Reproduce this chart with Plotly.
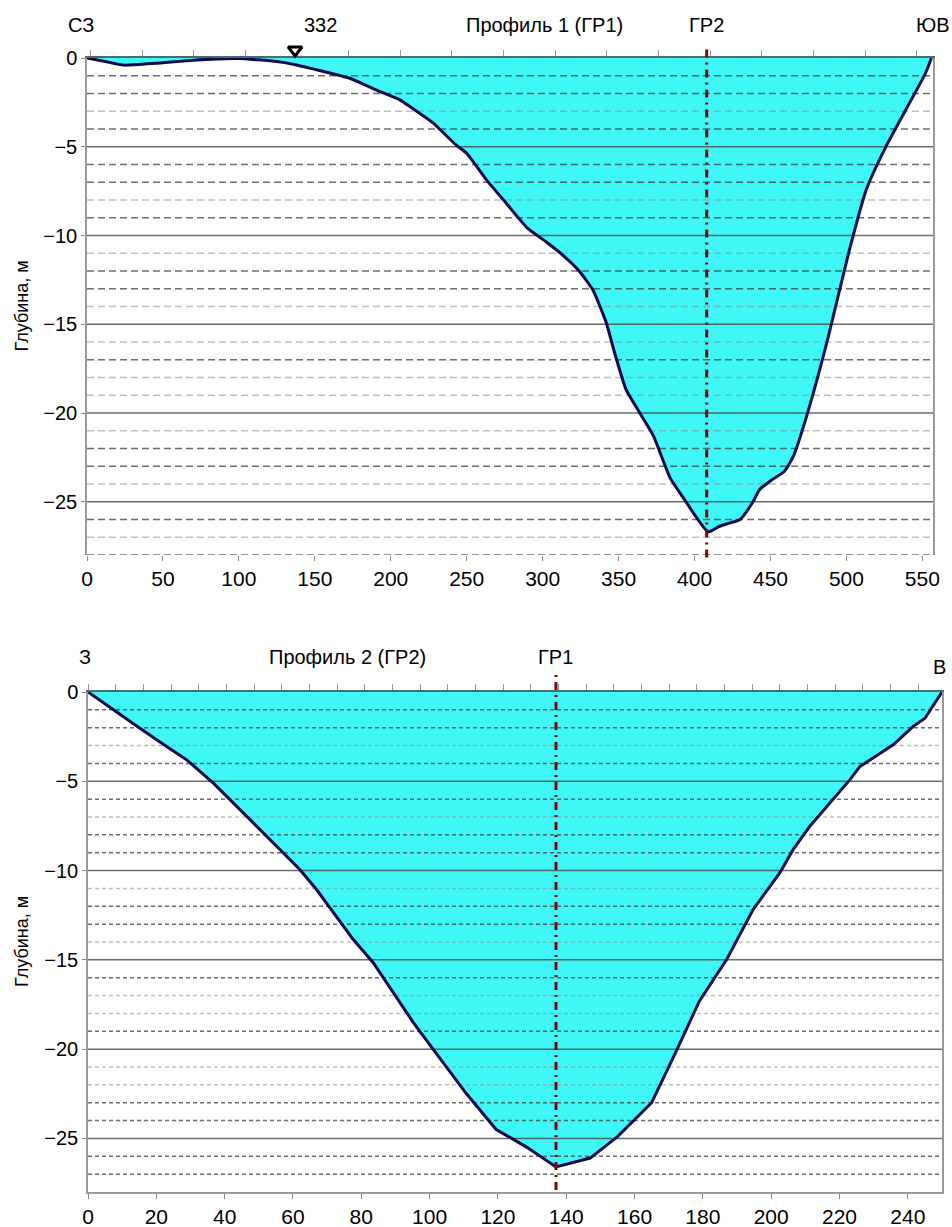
import plotly.graph_objects as go

# ---------------- data ----------------
# Profile 1 (ГР1): distance, m  /  depth, m
p1_x = [0, 12, 24, 45, 70, 100, 125, 138, 153, 173, 193, 206, 219, 228, 243, 250,
        263, 276, 290, 302, 313, 324, 333, 342, 347, 355, 364, 373, 384, 392, 409,
        416, 423, 430, 438, 443, 451, 459, 465, 473, 487, 495, 502, 513, 526, 539,
        552, 556]
p1_depth = [0, -0.2, -0.4, -0.3, -0.12, -0.03, -0.2, -0.39, -0.7, -1.14, -1.9, -2.36,
            -3.12, -3.67, -4.9, -5.37, -6.87, -8.18, -9.59, -10.34, -11.09, -12.0,
            -13.06, -14.94, -16.5, -18.7, -20.0, -21.3, -23.67, -24.7, -26.7, -26.4,
            -26.2, -26.0, -25.07, -24.3, -23.76, -23.3, -22.45, -20.4, -16.06, -13.25,
            -10.8, -7.43, -4.99, -2.93, -0.86, 0]
p1_gr2 = 408          # crossing with profile 2
p1_station = 137      # station 332 marker
p1_range = [0, 557]
p1_xticks = [0, 50, 100, 150, 200, 250, 300, 350, 400, 450, 500, 550]

# Profile 2 (ГР2)
p2_x = [0, 7.4, 15.2, 23, 28.9, 36.7, 45.5, 52.3, 57.2, 62, 66.9, 71.8, 77.6, 83.5,
        89.4, 95.2, 101, 110.8, 119.5, 128.5, 137, 147, 155, 165, 172, 179, 187,
        194.7, 202.5, 206.4, 211.3, 218, 223, 226, 235.7, 241.5, 245, 250]
p2_depth = [0, -1.0, -2.03, -3.05, -3.8, -5.1, -6.78, -8.08, -9.0, -9.94, -11.06,
            -12.36, -13.85, -15.16, -16.83, -18.5, -20.0, -22.5, -24.5, -25.5, -26.6,
            -26.1, -24.9, -23.0, -20.2, -17.3, -14.97, -12.18, -10.13, -8.83, -7.52,
            -6.03, -4.92, -4.17, -2.96, -1.94, -1.47, 0]
p2_gr1 = 137
p2_range = [0, 250]
p2_xticks = [0, 20, 40, 60, 80, 100, 120, 140, 160, 180, 200, 220, 240]

y_range = [-28, 0]
y_ticks = [0, -5, -10, -15, -20, -25]
major_levels = [5, 10, 15, 20, 25]
p1_dark = [1, 2, 4, 6, 7, 9, 12, 13, 17, 22, 23, 26, 28]
p1_light = [3, 8, 11, 14, 16, 18, 19, 21, 24, 27]
p2_dark = [1, 2, 4, 6, 8, 9, 12, 13, 16, 19, 23, 24, 26, 27]
p2_light = [3, 7, 11, 14, 17, 18, 21, 22]

# labels above the plots: text, x in data units
p1_line_labels = ["332", "Профиль 1 (ГР1)", "ГР2"]
p1_line_label_x = [154, 301, 408]
p2_line_labels = ["Профиль 2 (ГР2)", "ГР1"]
p2_line_label_x = [76, 137]
# direction labels (paper placed): text, centre px x, centre px y
dir_labels = ["СЗ", "ЮВ", "З", "В"]
dir_label_px = [81, 933, 85, 939]
dir_label_py = [25, 25, 657, 667]

# ---------------- style ----------------
W, H = 952, 1227
FONT = "Liberation Sans, Arial, sans-serif"
WATER = "#3ff7f7"
CURVE = "#0b0b4d"
RED = "#7a0808"

dom1_x = [87 / W, 933 / W]
dom1_y = [1 - 555 / H, 1 - 58 / H]
dom2_x = [88 / W, 942 / W]
dom2_y = [1 - 1192 / H, 1 - 692 / H]
mark_dom_y = [1 - 58 / H, 1 - 42 / H]   # thin strip above profile 1 for the station marker


def hlines(levels, xr):
    xs, ys = [], []
    for lv in levels:
        xs += [xr[0], xr[1], None]
        ys += [-lv, -lv, None]
    return xs, ys


fig = go.Figure()


def add_profile(xa, ya, xs, depth, xr, dark, light, dash, shape, smooth):
    fig.add_trace(go.Scatter(x=xs, y=depth, mode="lines",
                             line=dict(width=0, shape=shape, smoothing=smooth),
                             fill="tozeroy", fillcolor=WATER, xaxis=xa, yaxis=ya,
                             hoverinfo="skip", showlegend=False))
    gx, gy = hlines(light, xr)
    fig.add_trace(go.Scatter(x=gx, y=gy, mode="lines", xaxis=xa, yaxis=ya,
                             line=dict(color="rgba(140,140,140,0.55)", width=1.5, dash=dash),
                             hoverinfo="skip", showlegend=False))
    gx, gy = hlines(dark, xr)
    fig.add_trace(go.Scatter(x=gx, y=gy, mode="lines", xaxis=xa, yaxis=ya,
                             line=dict(color="rgba(60,60,60,0.75)", width=1.5, dash=dash),
                             hoverinfo="skip", showlegend=False))
    gx, gy = hlines(major_levels, xr)
    fig.add_trace(go.Scatter(x=gx, y=gy, mode="lines", xaxis=xa, yaxis=ya,
                             line=dict(color="rgba(70,70,70,0.8)", width=1.5),
                             hoverinfo="skip", showlegend=False))
    fig.add_trace(go.Scatter(x=xs, y=depth, mode="lines", xaxis=xa, yaxis=ya,
                             line=dict(color=CURVE, width=3, shape=shape, smoothing=smooth),
                             hoverinfo="skip", showlegend=False))


add_profile("x", "y", p1_x, p1_depth, p1_range, p1_dark, p1_light, "7px,4px", "spline", 0.5)
add_profile("x2", "y2", p2_x, p2_depth, p2_range, p2_dark, p2_light, "4px,3px", "linear", 1)

# station marker (own thin subplot above profile 1)
fig.add_trace(go.Scatter(x=[p1_station], y=[0.5], mode="markers", xaxis="x5", yaxis="y5",
                         marker=dict(symbol="triangle-down-open", size=12, color="black",
                                     line=dict(width=3, color="black")),
                         cliponaxis=False, hoverinfo="skip", showlegend=False))
# dummy traces for top tick axes
fig.add_trace(go.Scatter(x=[p1_range[0]], y=[-30], xaxis="x3", yaxis="y", mode="markers",
                         marker=dict(opacity=0), showlegend=False, hoverinfo="skip"))
fig.add_trace(go.Scatter(x=[p2_range[0]], y=[-30], xaxis="x4", yaxis="y2", mode="markers",
                         marker=dict(opacity=0), showlegend=False, hoverinfo="skip"))

# crossing lines
fig.add_shape(type="line", xref="x", yref="y domain", x0=p1_gr2, x1=p1_gr2, y0=-0.005, y1=1.02,
              line=dict(color=RED, width=3, dash="8px,5px,2px,5px"), layer="above")
fig.add_shape(type="line", xref="x2", yref="y2 domain", x0=p2_gr1, x1=p2_gr1, y0=0.004, y1=1.036,
              line=dict(color=RED, width=3, dash="8px,5px,2px,5px"), layer="above")

tickfont = dict(family=FONT, size=21, color="black")
ytickfont = dict(family=FONT, size=20, color="black")

common_x = dict(showgrid=False, zeroline=False, ticks="outside", ticklen=5,
                tickcolor="#888", tickfont=tickfont, automargin=False)
common_y = dict(range=y_range, tickvals=y_ticks, ticks="outside", ticklen=4, tickcolor="#888",
                showgrid=False, zeroline=False, showline=True, linecolor="#999", linewidth=1.5,
                mirror=True, tickfont=ytickfont, automargin=False)

fig.update_layout(
    width=W, height=H,
    margin=dict(l=0, r=0, t=0, b=0),
    paper_bgcolor="white", plot_bgcolor="rgba(0,0,0,0)",
    font=dict(family=FONT, color="black"),
    xaxis=dict(domain=dom1_x, range=p1_range, tickvals=p1_xticks, anchor="y",
               showline=False, **common_x),
    yaxis=dict(domain=dom1_y, anchor="x", **common_y),
    xaxis2=dict(domain=dom2_x, range=p2_range, tickvals=p2_xticks, anchor="y2",
                showline=True, linecolor="#999", linewidth=1.5, **common_x),
    yaxis2=dict(domain=dom2_y, anchor="x2", **common_y),
    xaxis3=dict(overlaying="x", side="top", anchor="y", range=p1_range, tick0=2.3, dtick=34,
                ticks="outside", ticklen=6, tickcolor="#999", showticklabels=False,
                showgrid=False, zeroline=False, showline=True, linecolor="#4d6b6b",
                linewidth=2),
    xaxis4=dict(overlaying="x2", side="top", anchor="y2", range=p2_range, tick0=0, dtick=8.1,
                ticks="outside", ticklen=6, tickcolor="#999", showticklabels=False,
                showgrid=False, zeroline=False, showline=True, linecolor="#4d6b6b",
                linewidth=2),
    xaxis5=dict(domain=dom1_x, range=p1_range, anchor="y5", visible=False, fixedrange=True),
    yaxis5=dict(domain=mark_dom_y, range=[0, 1], anchor="x5", visible=False, fixedrange=True),
)

ann_font = dict(family=FONT, size=20, color="black")
for t, xv in zip(p1_line_labels, p1_line_label_x):
    fig.add_annotation(text=t, x=xv, xref="x", y=1 - 25 / H, yref="paper",
                       showarrow=False, font=ann_font, xanchor="center", yanchor="middle")
for t, xv in zip(p2_line_labels, p2_line_label_x):
    fig.add_annotation(text=t, x=xv, xref="x2", y=1 - 657 / H, yref="paper",
                       showarrow=False, font=ann_font, xanchor="center", yanchor="middle")
for t, px, py in zip(dir_labels, dir_label_px, dir_label_py):
    fig.add_annotation(text=t, x=px / W, xref="paper", y=1 - py / H, yref="paper",
                       showarrow=False, font=ann_font, xanchor="center", yanchor="middle")

for dom in (dom1_y, dom2_y):
    fig.add_annotation(text="Глубина, м", x=22 / W, xref="paper", y=(dom[0] + dom[1]) / 2,
                       yref="paper", textangle=-90, showarrow=False,
                       font=dict(family=FONT, size=18, color="black"),
                       xanchor="center", yanchor="middle")

fig.write_html("out.html",
               config={"displayModeBar": False},
               post_script="document.body.style.margin='0';"
                           "document.body.style.overflow='hidden';")
